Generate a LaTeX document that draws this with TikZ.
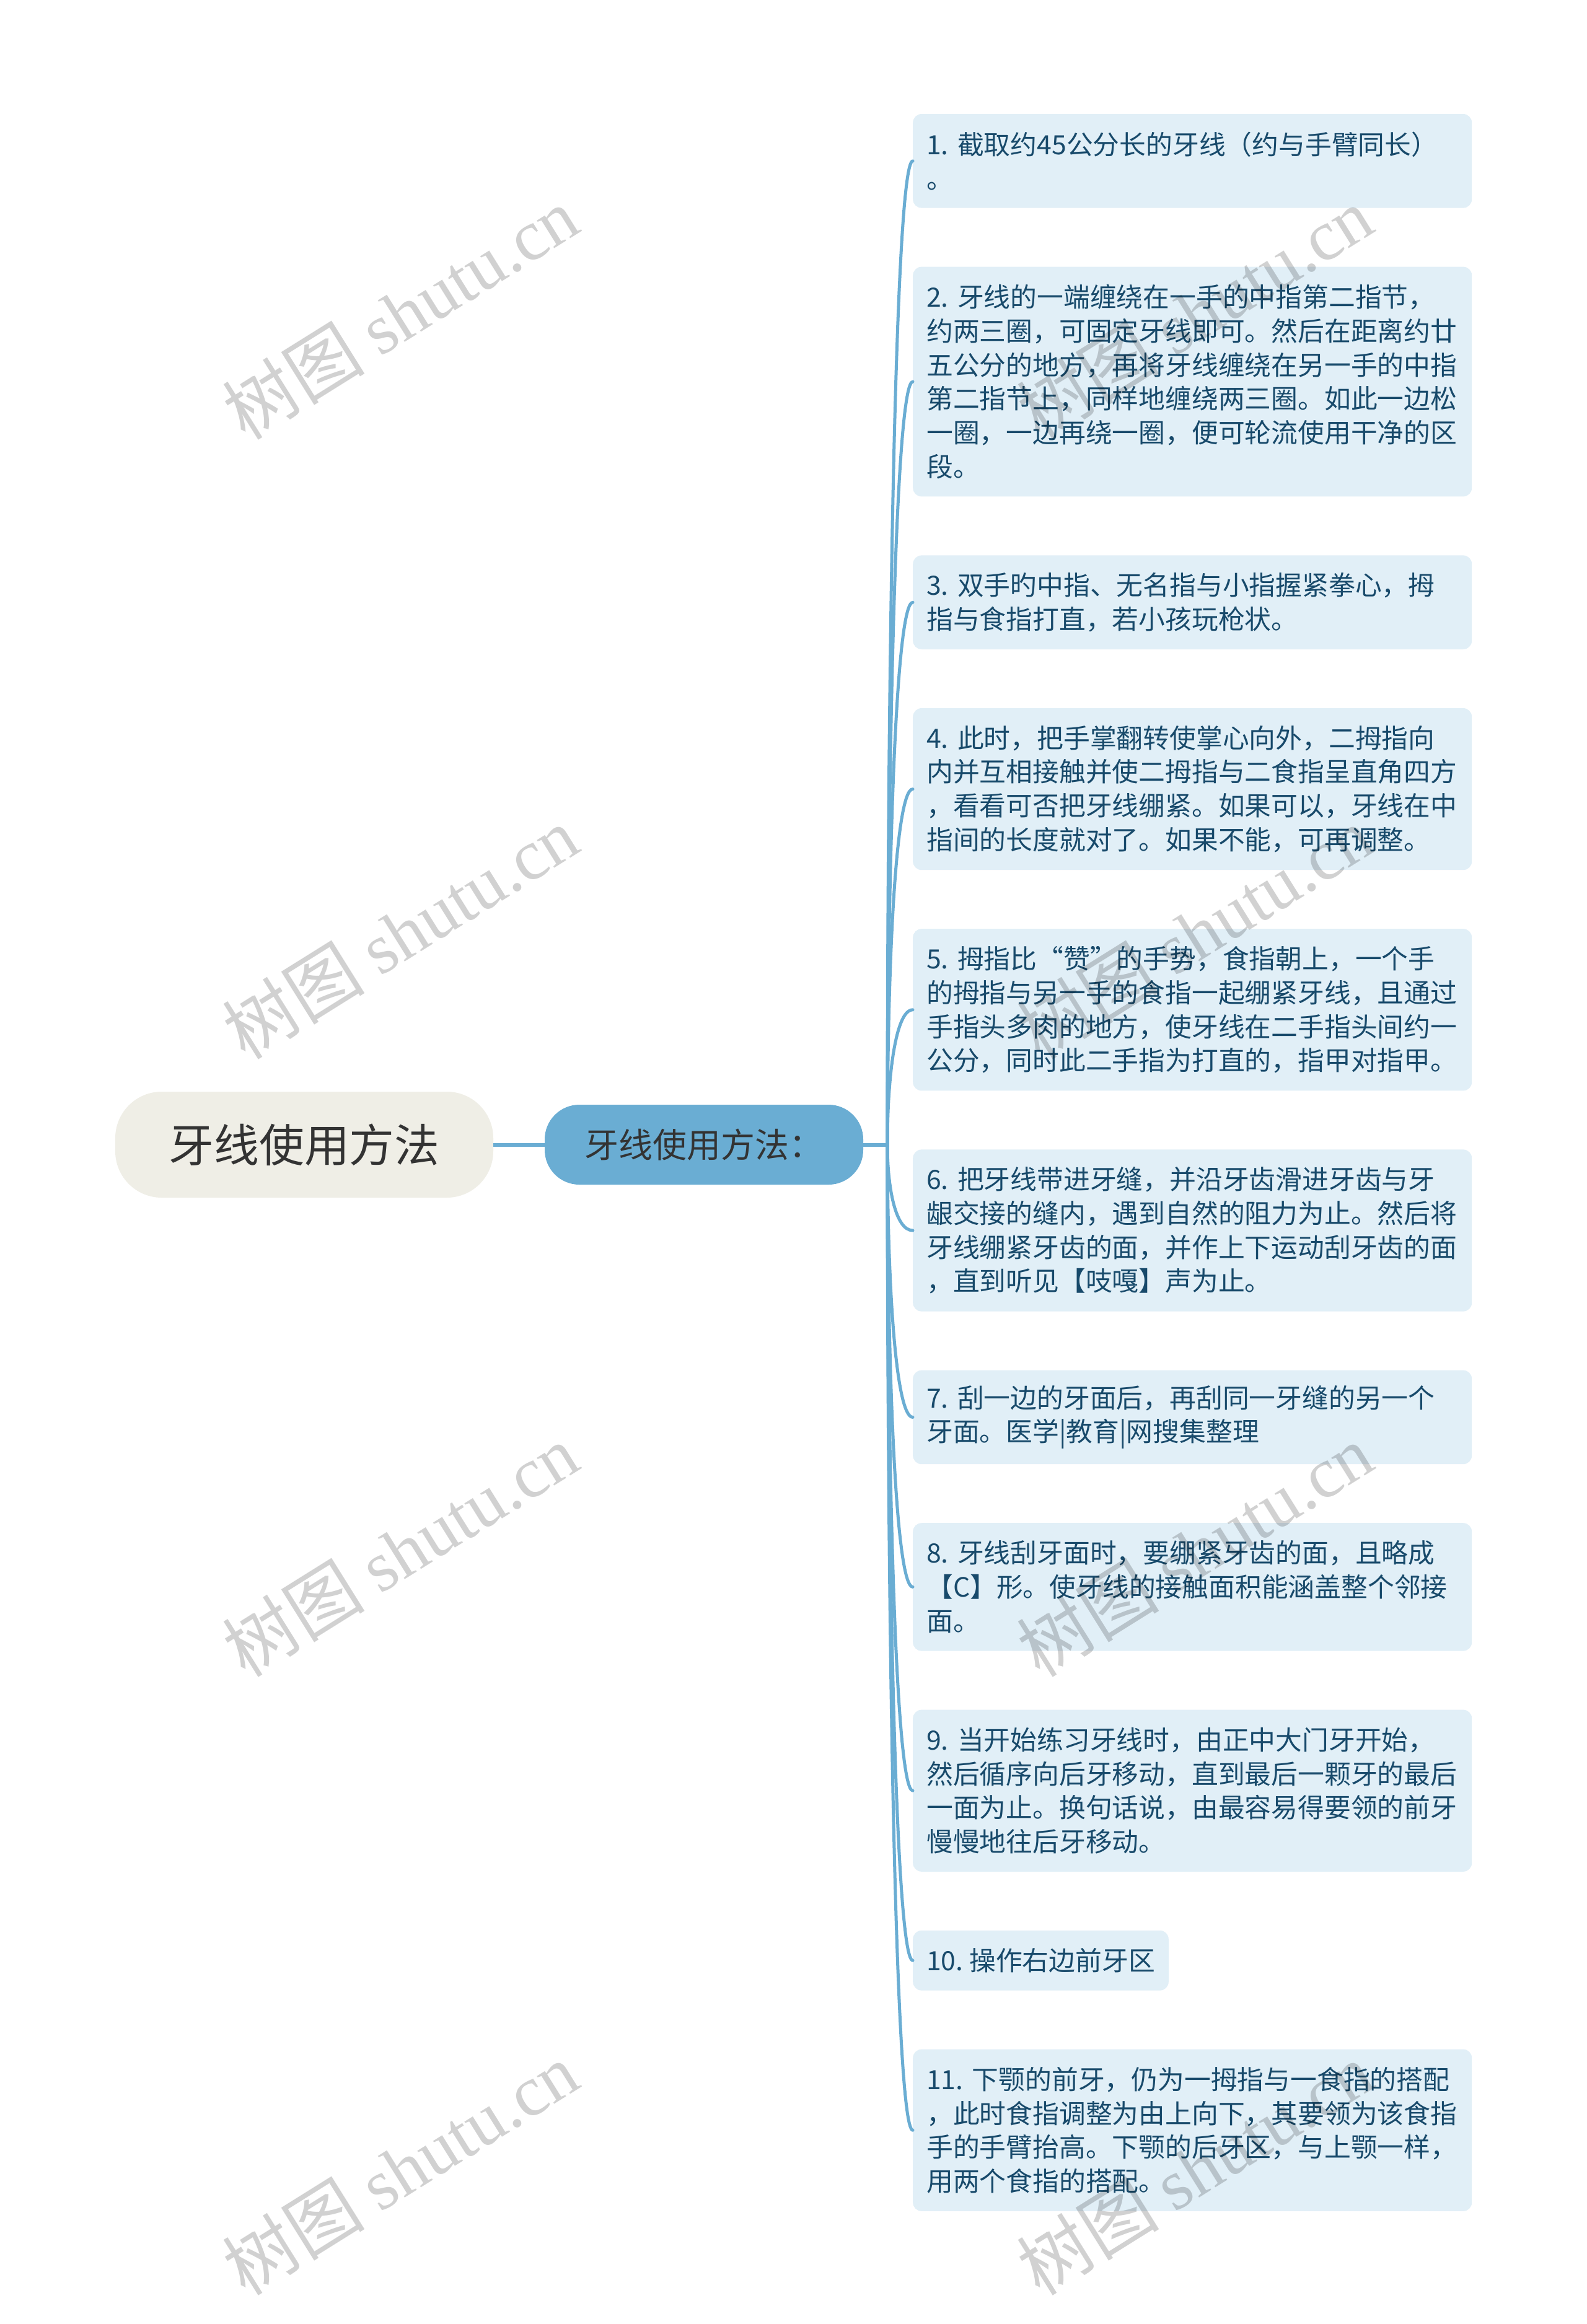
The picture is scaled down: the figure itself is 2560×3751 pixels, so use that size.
\documentclass[tikz,border=0pt]{standalone}
\usepackage{fontspec}
\setmainfont{Noto Sans CJK SC}
\newfontfamily\wmserif{Liberation Serif}
\usetikzlibrary{calc}
\definecolor{lineblue}{HTML}{6AADD3}
\definecolor{boxfill}{HTML}{E1EFF7}
\definecolor{boxtext}{HTML}{184A6B}
\definecolor{rootfill}{HTML}{EFEEE6}
\definecolor{roottext}{HTML}{333333}
\begin{document}
\begin{tikzpicture}[x=1pt,y=-1pt,
  conn/.style={draw=lineblue,line width=5pt,line cap=round},
  stub/.style={draw=lineblue,line width=6pt},
  rootnode/.style={fill=rootfill,rounded corners=75pt,minimum width=610pt,minimum height=171pt,inner sep=0pt,text=roottext,font=\fontsize{72.8}{80}\selectfont},
  mainnode/.style={fill=lineblue,rounded corners=56pt,minimum width=514pt,minimum height=129pt,inner sep=0pt,text=roottext,font=\fontsize{55}{62}\selectfont},
  leafbox/.style={fill=boxfill,rounded corners=14pt,anchor=west,text width=858pt,inner xsep=22pt,inner ysep=0pt,align=left,text=boxtext,font=\fontsize{42.8}{54.8}\selectfont},
  shortbox/.style={fill=boxfill,rounded corners=14pt,anchor=west,inner xsep=22pt,inner ysep=0pt,align=left,text=boxtext,font=\fontsize{42.8}{54.8}\selectfont},
  wm/.style={rotate=32,text=black,text opacity=0.18,inner sep=0pt,font=\fontsize{115}{120}\selectfont}
]
\useasboundingbox[fill=white] (0,0) rectangle (2560,3751);

\node[rootnode] (root) at (491,1847.5) {牙线使用方法};
\node[mainnode] (main) at (1136,1847.5) {牙线使用方法：};
\coordinate (J) at (1432,1847.5);

\node[leafbox,minimum height=151.6pt] (b1) at (1473,259.8) {1.~截取约45公分长的牙线（约与手臂同长）\\。};
\node[leafbox,minimum height=370.8pt] (b2) at (1473,616) {2.~牙线的一端缠绕在一手的中指第二指节，\\约两三圈，可固定牙线即可。然后在距离约廿\\五公分的地方，再将牙线缠绕在另一手的中指\\第二指节上，同样地缠绕两三圈。如此一边松\\一圈，一边再绕一圈，便可轮流使用干净的区\\段。};
\node[leafbox,minimum height=151.6pt] (b3) at (1473,972.2) {3.~双手旳中指、无名指与小指握紧拳心，拇\\指与食指打直，若小孩玩枪状。};
\node[leafbox,minimum height=261.2pt] (b4) at (1473,1273.6) {4.~此时，把手掌翻转使掌心向外，二拇指向\\内并互相接触并使二拇指与二食指呈直角四方\\，看看可否把牙线绷紧。如果可以，牙线在中\\指间的长度就对了。如果不能，可再调整。};
\node[leafbox,minimum height=261.2pt] (b5) at (1473,1629.8) {5.~拇指比“赞”的手势，食指朝上，一个手\\的拇指与另一手的食指一起绷紧牙线，且通过\\手指头多肉的地方，使牙线在二手指头间约一\\公分，同时此二手指为打直的，指甲对指甲。};
\node[leafbox,minimum height=261.2pt] (b6) at (1473,1986) {6.~把牙线带进牙缝，并沿牙齿滑进牙齿与牙\\龈交接的缝内，遇到自然的阻力为止。然后将\\牙线绷紧牙齿的面，并作上下运动刮牙齿的面\\，直到听见【吱嘎】声为止。};
\node[leafbox,minimum height=151.6pt] (b7) at (1473,2287.4) {7.~刮一边的牙面后，再刮同一牙缝的另一个\\牙面。医学|教育|网搜集整理};
\node[leafbox,minimum height=206.4pt] (b8) at (1473,2561.4) {8.~牙线刮牙面时，要绷紧牙齿的面，且略成\\【C】形。使牙线的接触面积能涵盖整个邻接\\面。};
\node[leafbox,minimum height=261.2pt] (b9) at (1473,2890.2) {9.~当开始练习牙线时，由正中大门牙开始，\\然后循序向后牙移动，直到最后一颗牙的最后\\一面为止。换句话说，由最容易得要领的前牙\\慢慢地往后牙移动。};
\node[shortbox,minimum height=96.8pt] (b10) at (1473,3164.2) {10.~操作右边前牙区};
\node[leafbox,minimum height=261.2pt] (b11) at (1473,3438.2) {11.~下颚的前牙，仍为一拇指与一食指的搭配\\，此时食指调整为由上向下，其要领为该食指\\手的手臂抬高。下颚的后牙区，与上颚一样，\\用两个食指的搭配。};

\draw[stub] (root.east) -- (main.west);
\draw[stub] (main.east) -- (J);
\foreach \i in {1,...,11}{
  \draw[conn] (J) .. controls ($(J)!0.5!(J|-b\i.west)$) and ($(b\i.west)+(-28,0)$) .. (b\i.west);
}

\foreach \wx in {646,1928}{
  \foreach \wy in {505,1505,2502,3500}{
    \node[wm] at (\wx,\wy) {树图 {\wmserif shutu.cn}};
  }
}
\end{tikzpicture}
\end{document}
